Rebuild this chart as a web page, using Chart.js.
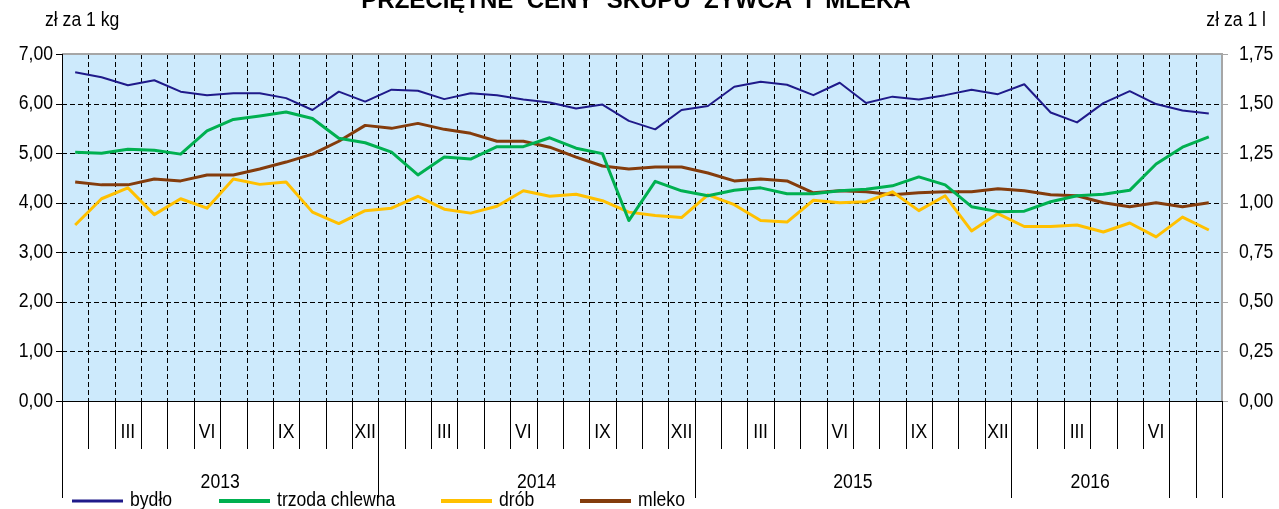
<!DOCTYPE html>
<html>
<head>
<meta charset="utf-8">
<script src="https://cdn.jsdelivr.net/npm/chart.js@4.4.1/dist/chart.umd.min.js"></script>
<style>
    html, body { margin: 0; padding: 0; background: #fff; }
    #wrap { width: 1279px; height: 509px; position: relative; }
</style>
</head>
<body>
<div id="wrap"><canvas id="chart" width="1279" height="509"></canvas></div>
<script>
// months Jan 2013 - Aug 2016
const years = ['2013', '2014', '2015', '2016'];
const romanMonths = ['I', 'II', 'III', 'IV', 'V', 'VI', 'VII', 'VIII', 'IX', 'X', 'XI', 'XII'];
const shownMonths = ['III', 'VI', 'IX', 'XII'];
const categories = [];
years.forEach(y => romanMonths.forEach(m => categories.push(m + ' ' + y)));
categories.length = 44;

// zł za 1 kg
const bydlo = [6.63, 6.53, 6.37, 6.47, 6.24, 6.17, 6.21, 6.21, 6.11, 5.87, 6.24,
    6.04, 6.28, 6.26, 6.09, 6.21, 6.17, 6.08, 6.02, 5.90, 5.98, 5.65,
    5.48, 5.87, 5.95, 6.34, 6.44, 6.38, 6.17, 6.42, 6.01, 6.14, 6.08,
    6.17, 6.28, 6.19, 6.39, 5.82, 5.62, 6.01, 6.25, 5.99, 5.86, 5.80];
const trzoda = [5.02, 5.00, 5.08, 5.06, 4.98, 5.45, 5.68, 5.75, 5.83, 5.70, 5.30,
    5.21, 5.02, 4.56, 4.92, 4.88, 5.13, 5.13, 5.31, 5.10, 4.99, 3.64,
    4.43, 4.24, 4.14, 4.25, 4.30, 4.18, 4.18, 4.24, 4.27, 4.34, 4.52,
    4.36, 3.92, 3.82, 3.83, 4.02, 4.14, 4.17, 4.25, 4.78, 5.12, 5.33];
const drob = [3.55, 4.08, 4.30, 3.76, 4.08, 3.89, 4.48, 4.37, 4.42, 3.81, 3.58,
    3.84, 3.89, 4.13, 3.87, 3.79, 3.93, 4.24, 4.13, 4.17, 4.04, 3.81,
    3.74, 3.70, 4.16, 3.96, 3.64, 3.61, 4.05, 4.00, 4.02, 4.22, 3.84,
    4.14, 3.43, 3.78, 3.52, 3.52, 3.55, 3.41, 3.59, 3.31, 3.71, 3.45];
// zł za 1 l
const mleko = [1.105, 1.09, 1.09, 1.12, 1.11, 1.14, 1.14, 1.17, 1.205, 1.245, 1.31,
    1.39, 1.375, 1.40, 1.37, 1.35, 1.31, 1.31, 1.28, 1.23, 1.185, 1.17,
    1.18, 1.18, 1.15, 1.11, 1.12, 1.11, 1.05, 1.06, 1.055, 1.04, 1.05,
    1.055, 1.055, 1.07, 1.06, 1.04, 1.035, 1.00, 0.98, 1.00, 0.98, 1.00];

const leftTicks = [0, 1, 2, 3, 4, 5, 6, 7];
const rightTicks = [0, 0.25, 0.5, 0.75, 1, 1.25, 1.5, 1.75];

const FONT = '20px "Liberation Sans", Arial, sans-serif';
const fmt = v => v.toFixed(2).replace('.', ',');

// the original uses a narrow face, so squeeze the text a bit
function narrowText(ctx, s, x, y, align) {
    ctx.save();
    ctx.translate(x, y);
    ctx.scale(0.88, 1);
    ctx.textAlign = align;
    ctx.fillText(s, 0, 0);
    ctx.restore();
}

// grid, axes, month/year rows, title, legend
const decor = {
    id: 'decor',
    beforeDraw(chart) {
        const { ctx, chartArea: a } = chart;
        ctx.save();
        ctx.fillStyle = '#cdeafc';
        ctx.fillRect(a.left, a.top, a.right - a.left, a.bottom - a.top);
        ctx.restore();
    },
    beforeDatasetsDraw(chart) {
        const { ctx, chartArea: a, scales } = chart;
        const x = scales.x, y = scales.y;
        ctx.save();
        ctx.strokeStyle = '#000';
        ctx.lineWidth = 1;
        ctx.setLineDash([5, 3]);
        ctx.beginPath();
        leftTicks.slice(1, -1).forEach(v => {
            const py = Math.round(y.getPixelForValue(v)) + 0.5;
            ctx.moveTo(a.left, py); ctx.lineTo(a.right, py);
        });
        for (let i = 1; i < categories.length; i++) {
            const px = Math.round((x.getPixelForValue(i - 1) + x.getPixelForValue(i)) / 2) + 0.5;
            ctx.moveTo(px, a.top); ctx.lineTo(px, a.bottom);
        }
        ctx.stroke();
        ctx.setLineDash([]);

        // top and right frame
        ctx.strokeStyle = '#a6a6a6';
        ctx.lineWidth = 2;
        ctx.beginPath();
        ctx.moveTo(a.left, a.top); ctx.lineTo(a.right, a.top); ctx.lineTo(a.right, a.bottom);
        ctx.stroke();
        ctx.lineWidth = 1;
        ctx.beginPath();
        rightTicks.forEach(v => {
            const py = Math.round(scales.y1.getPixelForValue(v)) + 0.5;
            ctx.moveTo(a.right, py); ctx.lineTo(a.right + 6, py);
        });
        ctx.stroke();

        // left and bottom axes
        ctx.strokeStyle = '#000';
        ctx.beginPath();
        ctx.moveTo(a.left + 0.5, a.top); ctx.lineTo(a.left + 0.5, a.bottom);
        ctx.moveTo(a.left, a.bottom + 0.5); ctx.lineTo(a.right, a.bottom + 0.5);
        leftTicks.forEach(v => {
            const py = Math.round(y.getPixelForValue(v)) + 0.5;
            ctx.moveTo(a.left - 6, py); ctx.lineTo(a.left, py);
        });
        ctx.stroke();
        ctx.restore();
    },
    afterDraw(chart) {
        const { ctx, chartArea: a, scales } = chart;
        const x = scales.x;
        const n = categories.length;
        const edge = i => {
            if (i === 0) return x.getPixelForValue(0) - (x.getPixelForValue(1) - x.getPixelForValue(0)) / 2;
            if (i === n) return x.getPixelForValue(n - 1) + (x.getPixelForValue(n - 1) - x.getPixelForValue(n - 2)) / 2;
            return (x.getPixelForValue(i - 1) + x.getPixelForValue(i)) / 2;
        };
        const longEdges = [0, 12, 24, 36, 42, 43, 44];
        ctx.save();
        ctx.strokeStyle = '#000';
        ctx.lineWidth = 1;
        ctx.beginPath();
        for (let i = 0; i <= n; i++) {
            const px = Math.round(edge(i)) + 0.5;
            ctx.moveTo(px, a.bottom);
            ctx.lineTo(px, longEdges.includes(i) ? a.bottom + 97 : a.bottom + 48);
        }
        ctx.stroke();

        ctx.fillStyle = '#000';
        ctx.font = FONT;
        ctx.textBaseline = 'middle';

        // value axes
        leftTicks.forEach(v => narrowText(ctx, fmt(v), a.left - 9, scales.y.getPixelForValue(v), 'right'));
        rightTicks.forEach(v => narrowText(ctx, fmt(v), a.right + 17, scales.y1.getPixelForValue(v), 'left'));

        categories.forEach((c, i) => {
            const m = c.split(' ')[0];
            if (shownMonths.includes(m)) narrowText(ctx, m, x.getPixelForValue(i), a.bottom + 31, 'center');
        });
        const groups = [[0, 12], [12, 24], [24, 36], [36, 42]];
        groups.forEach((g, k) => {
            narrowText(ctx, years[k], (edge(g[0]) + edge(g[1])) / 2, a.bottom + 81, 'center');
        });

        // axis titles
        narrowText(ctx, 'zł za 1 kg', 45, 20, 'left');
        narrowText(ctx, 'zł za 1 l', 1266, 20, 'right');

        // title (cut at the top)
        ctx.textAlign = 'center';
        ctx.textBaseline = 'alphabetic';
        ctx.font = 'bold 24px "Liberation Sans", Arial, sans-serif';
        ctx.fillText('PRZECIĘTNE  CENY  SKUPU  ŻYWCA  I  MLEKA', 636, 8);

        // legend
        const legendX = [72, 219, 441, 580];
        ctx.font = FONT;
        ctx.textBaseline = 'middle';
        chart.data.datasets.forEach((ds, i) => {
            const lx = legendX[i];
            ctx.strokeStyle = ds.borderColor;
            ctx.lineWidth = ds.borderWidth + 1;
            ctx.beginPath();
            ctx.moveTo(lx, 501); ctx.lineTo(lx + 51, 501);
            ctx.stroke();
            narrowText(ctx, ds.label, lx + 58, 500, 'left');
        });
        ctx.restore();
    }
};

new Chart(document.getElementById('chart'), {
    type: 'line',
    data: {
        labels: categories,
        datasets: [
            { label: 'bydło', data: bydlo, borderColor: '#1f1a8a', borderWidth: 2, yAxisID: 'y' },
            { label: 'trzoda chlewna', data: trzoda, borderColor: '#00b050', borderWidth: 3, yAxisID: 'y' },
            { label: 'drób', data: drob, borderColor: '#ffc000', borderWidth: 3, yAxisID: 'y' },
            { label: 'mleko', data: mleko, borderColor: '#843c0c', borderWidth: 3, yAxisID: 'y1' }
        ]
    },
    options: {
        responsive: false,
        animation: false,
        events: [],
        layout: { padding: { top: 54, left: 0, right: 0, bottom: 0 } },
        elements: { point: { radius: 0 }, line: { tension: 0, borderJoinStyle: 'round' } },
        plugins: { legend: { display: false }, tooltip: { enabled: false } },
        scales: {
            x: {
                offset: true,
                grid: { display: false },
                border: { display: false },
                ticks: { display: false },
                afterFit: s => { s.height = 108; }
            },
            y: {
                position: 'left',
                min: 0, max: 7,
                afterBuildTicks: s => { s.ticks = leftTicks.map(v => ({ value: v })); },
                ticks: { display: false },
                grid: { display: false },
                border: { display: false },
                afterFit: s => { s.width = 62; }
            },
            y1: {
                position: 'right',
                min: 0, max: 1.75,
                afterBuildTicks: s => { s.ticks = rightTicks.map(v => ({ value: v })); },
                ticks: { display: false },
                grid: { display: false },
                border: { display: false },
                afterFit: s => { s.width = 57; }
            }
        }
    },
    plugins: [decor]
});
</script>
</body>
</html>
